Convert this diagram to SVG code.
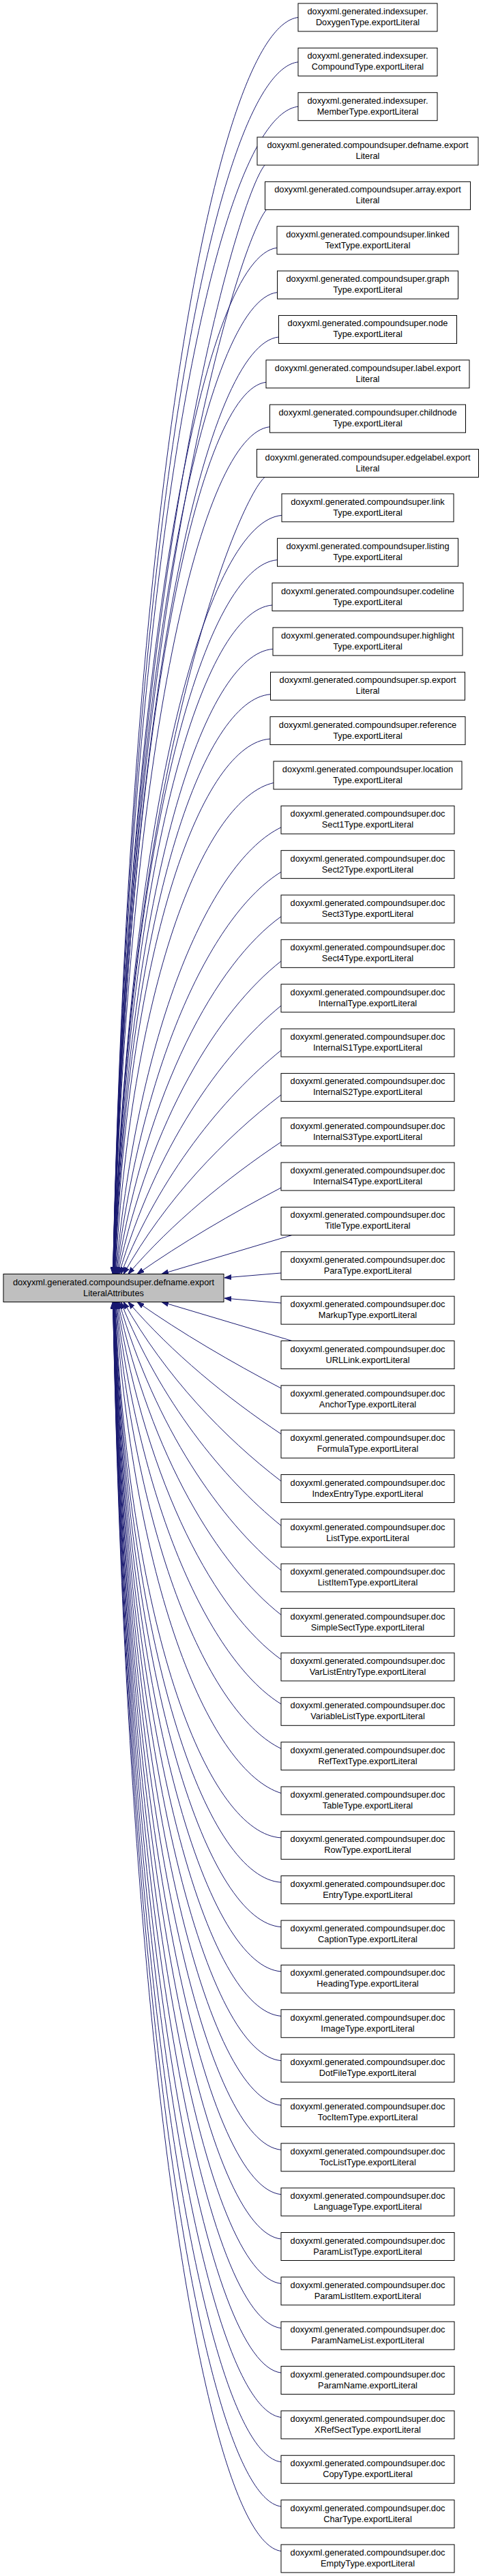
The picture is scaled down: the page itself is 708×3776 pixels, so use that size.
<svg xmlns="http://www.w3.org/2000/svg" width="708" height="3776" viewBox="0 0 708 3776">
<style>
.node rect{fill:#ffffff;stroke:#000000;stroke-width:1}
.main rect{fill:#bfbfbf;stroke:#000000;stroke-width:1}
text{font-family:"Liberation Sans",Arial,Helvetica,sans-serif;font-size:12.8px;text-anchor:middle;fill:#000000}
.edges path{fill:none;stroke:#191970;stroke-width:1;marker-end:url(#ah)}
</style>
<defs>
<marker id="ah" markerUnits="userSpaceOnUse" viewBox="0 -4 10 8" refX="10" refY="0" markerWidth="10" markerHeight="8" orient="auto">
<path d="M0,-3.5 L10,0 L0,3.5 Z" fill="#191970" stroke="#191970" stroke-width="1"/>
</marker>
</defs>
<rect x="0" y="0" width="708" height="3776" fill="#ffffff"/>
<g class="edges" id="edges">
<path d="M437,25.5 C320.3,40.2 191.3,701.5 165.5,1867.5"/>
<path d="M437,90.9 C320.3,105.1 191.3,742.9 165.5,1867.5"/>
<path d="M437,156.2 C320.3,169.9 191.3,784.3 165.6,1867.5"/>
<path d="M388,242.1 C348,290.9 186.8,838.6 165.7,1867.5"/>
<path d="M390.5,307.4 C350.1,354.2 187.1,880 165.8,1867.5"/>
<path d="M406,363.3 C302.8,375.3 188.7,915.3 165.9,1867.5"/>
<path d="M406.5,428.6 C303.1,440.1 188.8,956.7 166,1867.5"/>
<path d="M408.5,494 C304.3,505 189.2,998.1 166.2,1867.5"/>
<path d="M390,560.3 C293.8,570.8 187.6,1040 166.3,1867.5"/>
<path d="M395.5,625.7 C297,635.6 188.3,1081.5 166.5,1867.5"/>
<path d="M388,699.5 C348.2,734.5 187.7,1128.2 166.7,1867.5"/>
<path d="M413,755.4 C307.2,764.3 190.3,1163.5 166.9,1867.5"/>
<path d="M406.5,820.7 C303.6,829.1 189.8,1204.9 167.1,1867.5"/>
<path d="M399,887 C299.4,894.8 189.4,1246.8 167.4,1867.5"/>
<path d="M400,951.4 C300.1,958.7 189.8,1287.6 167.7,1867.5"/>
<path d="M396.5,1017.8 C298.2,1024.6 189.7,1329.6 168,1867.5"/>
<path d="M396,1083.1 C298.2,1089.4 190.1,1371 168.5,1867.5"/>
<path d="M401,1147.5 C302.8,1169.7 194.9,1426.8 169,1867.5"/>
<path d="M412,1212.8 C312.5,1260.6 204.2,1492.3 169.6,1867.5"/>
<path d="M412,1278.2 C314.8,1337.9 209.9,1545.2 170.4,1867.5"/>
<path d="M412,1343.5 C317.2,1411.5 215.7,1594.5 171.4,1867.5"/>
<path d="M412,1408.9 C319.7,1481.4 221.7,1640.5 172.7,1867.5"/>
<path d="M412,1474.2 C322.4,1547.4 228.1,1683.1 174.5,1867.5"/>
<path d="M412,1539.6 C325.4,1610 235,1722.3 177.1,1867.5"/>
<path d="M412,1604.9 C328.8,1668.6 242.7,1758 181.1,1867.5"/>
<path d="M412,1674 C333.2,1726.7 252.6,1792.1 187.9,1867.5"/>
<path d="M412,1741 C339.7,1779.1 266.5,1821.5 201.2,1867.5"/>
<path d="M428,1810.5 C364.3,1829.5 300.7,1848.5 237,1867.5"/>
<path d="M412,1866 L329,1873"/>
<path d="M412,1910 L329,1903"/>
<path d="M428,1965.5 C364.3,1946.5 300.7,1927.5 237,1908.5"/>
<path d="M412,2035 C339.7,1996.9 266.5,1954.5 201.2,1908.5"/>
<path d="M412,2102 C333.2,2049.3 252.6,1983.9 187.9,1908.5"/>
<path d="M412,2171.1 C328.8,2107.4 242.7,2018 181.1,1908.5"/>
<path d="M412,2236.4 C325.4,2166 235,2053.7 177.1,1908.5"/>
<path d="M412,2301.8 C322.4,2228.6 228.1,2092.9 174.5,1908.5"/>
<path d="M412,2367.1 C319.7,2294.6 221.7,2135.5 172.7,1908.5"/>
<path d="M412,2432.5 C317.2,2364.5 215.7,2181.5 171.4,1908.5"/>
<path d="M412,2497.8 C314.8,2438.1 209.9,2230.8 170.4,1908.5"/>
<path d="M412,2563.2 C312.5,2515.4 204.2,2283.7 169.6,1908.5"/>
<path d="M412,2628.5 C310.1,2596.5 198.6,2340.1 169,1908.5"/>
<path d="M412,2693.9 C307.3,2687.6 191.6,2405.7 168.5,1908.5"/>
<path d="M412,2759.2 C307.1,2752.4 191.2,2447 168,1908.5"/>
<path d="M412,2824.6 C306.9,2817.3 190.9,2488.4 167.7,1908.5"/>
<path d="M412,2889.9 C306.8,2882 190.6,2529.7 167.4,1908.5"/>
<path d="M412,2955.3 C306.7,2946.9 190.4,2571.1 167.1,1908.5"/>
<path d="M412,3020.6 C306.6,3011.7 190.2,2612.5 166.9,1908.5"/>
<path d="M412,3086 C306.5,3076.6 190,2653.9 166.7,1908.5"/>
<path d="M412,3151.3 C306.4,3141.4 189.8,2695.2 166.5,1908.5"/>
<path d="M412,3216.7 C306.3,3206.2 189.6,2736.6 166.3,1908.5"/>
<path d="M412,3282 C306.3,3271 189.6,2777.9 166.2,1908.5"/>
<path d="M412,3347.4 C306.2,3335.9 189.4,2819.3 166,1908.5"/>
<path d="M412,3412.7 C306.2,3400.7 189.3,2860.7 165.9,1908.5"/>
<path d="M412,3478.1 C306.1,3465.5 189.2,2902.1 165.8,1908.5"/>
<path d="M412,3543.4 C306.1,3530.3 189.1,2943.4 165.7,1908.5"/>
<path d="M412,3608.8 C306,3595.2 188.9,2984.8 165.6,1908.5"/>
<path d="M412,3674.1 C306,3660 188.9,3026.1 165.5,1908.5"/>
<path d="M412,3739.5 C306,3724.9 188.9,3067.5 165.5,1908.5"/>
</g>
<g id="main" class="main"><rect x="5" y="1867.5" width="323" height="41"/><text x="166.5" y="1883.5">doxyxml.generated.compoundsuper.defname.export</text><text x="166.5" y="1899.5">LiteralAttributes</text></g>
<g id="n0" class="node" transform="translate(0,5)"><rect x="437" y="0" width="204" height="41"/><text x="539" y="16">doxyxml.generated.indexsuper.</text><text x="539" y="32">DoxygenType.exportLiteral</text></g>
<g id="n1" class="node" transform="translate(0,70.35)"><rect x="437" y="0" width="204" height="41"/><text x="539" y="16">doxyxml.generated.indexsuper.</text><text x="539" y="32">CompoundType.exportLiteral</text></g>
<g id="n2" class="node" transform="translate(0,135.7)"><rect x="437" y="0" width="204" height="41"/><text x="539" y="16">doxyxml.generated.indexsuper.</text><text x="539" y="32">MemberType.exportLiteral</text></g>
<g id="n3" class="node" transform="translate(0,201.05)"><rect x="377" y="0" width="324" height="41"/><text x="539" y="16">doxyxml.generated.compoundsuper.defname.export</text><text x="539" y="32">Literal</text></g>
<g id="n4" class="node" transform="translate(0,266.4)"><rect x="388.5" y="0" width="301" height="41"/><text x="539" y="16">doxyxml.generated.compoundsuper.array.export</text><text x="539" y="32">Literal</text></g>
<g id="n5" class="node" transform="translate(0,331.75)"><rect x="406" y="0" width="266" height="41"/><text x="539" y="16">doxyxml.generated.compoundsuper.linked</text><text x="539" y="32">TextType.exportLiteral</text></g>
<g id="n6" class="node" transform="translate(0,397.1)"><rect x="406.5" y="0" width="265" height="41"/><text x="539" y="16">doxyxml.generated.compoundsuper.graph</text><text x="539" y="32">Type.exportLiteral</text></g>
<g id="n7" class="node" transform="translate(0,462.45)"><rect x="408.5" y="0" width="261" height="41"/><text x="539" y="16">doxyxml.generated.compoundsuper.node</text><text x="539" y="32">Type.exportLiteral</text></g>
<g id="n8" class="node" transform="translate(0,527.8)"><rect x="390" y="0" width="298" height="41"/><text x="539" y="16">doxyxml.generated.compoundsuper.label.export</text><text x="539" y="32">Literal</text></g>
<g id="n9" class="node" transform="translate(0,593.15)"><rect x="395.5" y="0" width="287" height="41"/><text x="539" y="16">doxyxml.generated.compoundsuper.childnode</text><text x="539" y="32">Type.exportLiteral</text></g>
<g id="n10" class="node" transform="translate(0,658.5)"><rect x="376.5" y="0" width="325" height="41"/><text x="539" y="16">doxyxml.generated.compoundsuper.edgelabel.export</text><text x="539" y="32">Literal</text></g>
<g id="n11" class="node" transform="translate(0,723.85)"><rect x="413" y="0" width="252" height="41"/><text x="539" y="16">doxyxml.generated.compoundsuper.link</text><text x="539" y="32">Type.exportLiteral</text></g>
<g id="n12" class="node" transform="translate(0,789.2)"><rect x="406.5" y="0" width="265" height="41"/><text x="539" y="16">doxyxml.generated.compoundsuper.listing</text><text x="539" y="32">Type.exportLiteral</text></g>
<g id="n13" class="node" transform="translate(0,854.55)"><rect x="399" y="0" width="280" height="41"/><text x="539" y="16">doxyxml.generated.compoundsuper.codeline</text><text x="539" y="32">Type.exportLiteral</text></g>
<g id="n14" class="node" transform="translate(0,919.9)"><rect x="400" y="0" width="278" height="41"/><text x="539" y="16">doxyxml.generated.compoundsuper.highlight</text><text x="539" y="32">Type.exportLiteral</text></g>
<g id="n15" class="node" transform="translate(0,985.25)"><rect x="396.5" y="0" width="285" height="41"/><text x="539" y="16">doxyxml.generated.compoundsuper.sp.export</text><text x="539" y="32">Literal</text></g>
<g id="n16" class="node" transform="translate(0,1050.6)"><rect x="396" y="0" width="286" height="41"/><text x="539" y="16">doxyxml.generated.compoundsuper.reference</text><text x="539" y="32">Type.exportLiteral</text></g>
<g id="n17" class="node" transform="translate(0,1115.95)"><rect x="401" y="0" width="276" height="41"/><text x="539" y="16">doxyxml.generated.compoundsuper.location</text><text x="539" y="32">Type.exportLiteral</text></g>
<g id="n18" class="node" transform="translate(0,1181.3)"><rect x="412" y="0" width="254" height="41"/><text x="539" y="16">doxyxml.generated.compoundsuper.doc</text><text x="539" y="32">Sect1Type.exportLiteral</text></g>
<g id="n19" class="node" transform="translate(0,1246.65)"><rect x="412" y="0" width="254" height="41"/><text x="539" y="16">doxyxml.generated.compoundsuper.doc</text><text x="539" y="32">Sect2Type.exportLiteral</text></g>
<g id="n20" class="node" transform="translate(0,1312)"><rect x="412" y="0" width="254" height="41"/><text x="539" y="16">doxyxml.generated.compoundsuper.doc</text><text x="539" y="32">Sect3Type.exportLiteral</text></g>
<g id="n21" class="node" transform="translate(0,1377.35)"><rect x="412" y="0" width="254" height="41"/><text x="539" y="16">doxyxml.generated.compoundsuper.doc</text><text x="539" y="32">Sect4Type.exportLiteral</text></g>
<g id="n22" class="node" transform="translate(0,1442.7)"><rect x="412" y="0" width="254" height="41"/><text x="539" y="16">doxyxml.generated.compoundsuper.doc</text><text x="539" y="32">InternalType.exportLiteral</text></g>
<g id="n23" class="node" transform="translate(0,1508.05)"><rect x="412" y="0" width="254" height="41"/><text x="539" y="16">doxyxml.generated.compoundsuper.doc</text><text x="539" y="32">InternalS1Type.exportLiteral</text></g>
<g id="n24" class="node" transform="translate(0,1573.4)"><rect x="412" y="0" width="254" height="41"/><text x="539" y="16">doxyxml.generated.compoundsuper.doc</text><text x="539" y="32">InternalS2Type.exportLiteral</text></g>
<g id="n25" class="node" transform="translate(0,1638.75)"><rect x="412" y="0" width="254" height="41"/><text x="539" y="16">doxyxml.generated.compoundsuper.doc</text><text x="539" y="32">InternalS3Type.exportLiteral</text></g>
<g id="n26" class="node" transform="translate(0,1704.1)"><rect x="412" y="0" width="254" height="41"/><text x="539" y="16">doxyxml.generated.compoundsuper.doc</text><text x="539" y="32">InternalS4Type.exportLiteral</text></g>
<g id="n27" class="node" transform="translate(0,1769.45)"><rect x="412" y="0" width="254" height="41"/><text x="539" y="16">doxyxml.generated.compoundsuper.doc</text><text x="539" y="32">TitleType.exportLiteral</text></g>
<g id="n28" class="node" transform="translate(0,1834.8)"><rect x="412" y="0" width="254" height="41"/><text x="539" y="16">doxyxml.generated.compoundsuper.doc</text><text x="539" y="32">ParaType.exportLiteral</text></g>
<g id="n29" class="node" transform="translate(0,1900.15)"><rect x="412" y="0" width="254" height="41"/><text x="539" y="16">doxyxml.generated.compoundsuper.doc</text><text x="539" y="32">MarkupType.exportLiteral</text></g>
<g id="n30" class="node" transform="translate(0,1965.5)"><rect x="412" y="0" width="254" height="41"/><text x="539" y="16">doxyxml.generated.compoundsuper.doc</text><text x="539" y="32">URLLink.exportLiteral</text></g>
<g id="n31" class="node" transform="translate(0,2030.85)"><rect x="412" y="0" width="254" height="41"/><text x="539" y="16">doxyxml.generated.compoundsuper.doc</text><text x="539" y="32">AnchorType.exportLiteral</text></g>
<g id="n32" class="node" transform="translate(0,2096.2)"><rect x="412" y="0" width="254" height="41"/><text x="539" y="16">doxyxml.generated.compoundsuper.doc</text><text x="539" y="32">FormulaType.exportLiteral</text></g>
<g id="n33" class="node" transform="translate(0,2161.55)"><rect x="412" y="0" width="254" height="41"/><text x="539" y="16">doxyxml.generated.compoundsuper.doc</text><text x="539" y="32">IndexEntryType.exportLiteral</text></g>
<g id="n34" class="node" transform="translate(0,2226.9)"><rect x="412" y="0" width="254" height="41"/><text x="539" y="16">doxyxml.generated.compoundsuper.doc</text><text x="539" y="32">ListType.exportLiteral</text></g>
<g id="n35" class="node" transform="translate(0,2292.25)"><rect x="412" y="0" width="254" height="41"/><text x="539" y="16">doxyxml.generated.compoundsuper.doc</text><text x="539" y="32">ListItemType.exportLiteral</text></g>
<g id="n36" class="node" transform="translate(0,2357.6)"><rect x="412" y="0" width="254" height="41"/><text x="539" y="16">doxyxml.generated.compoundsuper.doc</text><text x="539" y="32">SimpleSectType.exportLiteral</text></g>
<g id="n37" class="node" transform="translate(0,2422.95)"><rect x="412" y="0" width="254" height="41"/><text x="539" y="16">doxyxml.generated.compoundsuper.doc</text><text x="539" y="32">VarListEntryType.exportLiteral</text></g>
<g id="n38" class="node" transform="translate(0,2488.3)"><rect x="412" y="0" width="254" height="41"/><text x="539" y="16">doxyxml.generated.compoundsuper.doc</text><text x="539" y="32">VariableListType.exportLiteral</text></g>
<g id="n39" class="node" transform="translate(0,2553.65)"><rect x="412" y="0" width="254" height="41"/><text x="539" y="16">doxyxml.generated.compoundsuper.doc</text><text x="539" y="32">RefTextType.exportLiteral</text></g>
<g id="n40" class="node" transform="translate(0,2619)"><rect x="412" y="0" width="254" height="41"/><text x="539" y="16">doxyxml.generated.compoundsuper.doc</text><text x="539" y="32">TableType.exportLiteral</text></g>
<g id="n41" class="node" transform="translate(0,2684.35)"><rect x="412" y="0" width="254" height="41"/><text x="539" y="16">doxyxml.generated.compoundsuper.doc</text><text x="539" y="32">RowType.exportLiteral</text></g>
<g id="n42" class="node" transform="translate(0,2749.7)"><rect x="412" y="0" width="254" height="41"/><text x="539" y="16">doxyxml.generated.compoundsuper.doc</text><text x="539" y="32">EntryType.exportLiteral</text></g>
<g id="n43" class="node" transform="translate(0,2815.05)"><rect x="412" y="0" width="254" height="41"/><text x="539" y="16">doxyxml.generated.compoundsuper.doc</text><text x="539" y="32">CaptionType.exportLiteral</text></g>
<g id="n44" class="node" transform="translate(0,2880.4)"><rect x="412" y="0" width="254" height="41"/><text x="539" y="16">doxyxml.generated.compoundsuper.doc</text><text x="539" y="32">HeadingType.exportLiteral</text></g>
<g id="n45" class="node" transform="translate(0,2945.75)"><rect x="412" y="0" width="254" height="41"/><text x="539" y="16">doxyxml.generated.compoundsuper.doc</text><text x="539" y="32">ImageType.exportLiteral</text></g>
<g id="n46" class="node" transform="translate(0,3011.1)"><rect x="412" y="0" width="254" height="41"/><text x="539" y="16">doxyxml.generated.compoundsuper.doc</text><text x="539" y="32">DotFileType.exportLiteral</text></g>
<g id="n47" class="node" transform="translate(0,3076.45)"><rect x="412" y="0" width="254" height="41"/><text x="539" y="16">doxyxml.generated.compoundsuper.doc</text><text x="539" y="32">TocItemType.exportLiteral</text></g>
<g id="n48" class="node" transform="translate(0,3141.8)"><rect x="412" y="0" width="254" height="41"/><text x="539" y="16">doxyxml.generated.compoundsuper.doc</text><text x="539" y="32">TocListType.exportLiteral</text></g>
<g id="n49" class="node" transform="translate(0,3207.15)"><rect x="412" y="0" width="254" height="41"/><text x="539" y="16">doxyxml.generated.compoundsuper.doc</text><text x="539" y="32">LanguageType.exportLiteral</text></g>
<g id="n50" class="node" transform="translate(0,3272.5)"><rect x="412" y="0" width="254" height="41"/><text x="539" y="16">doxyxml.generated.compoundsuper.doc</text><text x="539" y="32">ParamListType.exportLiteral</text></g>
<g id="n51" class="node" transform="translate(0,3337.85)"><rect x="412" y="0" width="254" height="41"/><text x="539" y="16">doxyxml.generated.compoundsuper.doc</text><text x="539" y="32">ParamListItem.exportLiteral</text></g>
<g id="n52" class="node" transform="translate(0,3403.2)"><rect x="412" y="0" width="254" height="41"/><text x="539" y="16">doxyxml.generated.compoundsuper.doc</text><text x="539" y="32">ParamNameList.exportLiteral</text></g>
<g id="n53" class="node" transform="translate(0,3468.55)"><rect x="412" y="0" width="254" height="41"/><text x="539" y="16">doxyxml.generated.compoundsuper.doc</text><text x="539" y="32">ParamName.exportLiteral</text></g>
<g id="n54" class="node" transform="translate(0,3533.9)"><rect x="412" y="0" width="254" height="41"/><text x="539" y="16">doxyxml.generated.compoundsuper.doc</text><text x="539" y="32">XRefSectType.exportLiteral</text></g>
<g id="n55" class="node" transform="translate(0,3599.25)"><rect x="412" y="0" width="254" height="41"/><text x="539" y="16">doxyxml.generated.compoundsuper.doc</text><text x="539" y="32">CopyType.exportLiteral</text></g>
<g id="n56" class="node" transform="translate(0,3664.6)"><rect x="412" y="0" width="254" height="41"/><text x="539" y="16">doxyxml.generated.compoundsuper.doc</text><text x="539" y="32">CharType.exportLiteral</text></g>
<g id="n57" class="node" transform="translate(0,3729.95)"><rect x="412" y="0" width="254" height="41"/><text x="539" y="16">doxyxml.generated.compoundsuper.doc</text><text x="539" y="32">EmptyType.exportLiteral</text></g>
</svg>
